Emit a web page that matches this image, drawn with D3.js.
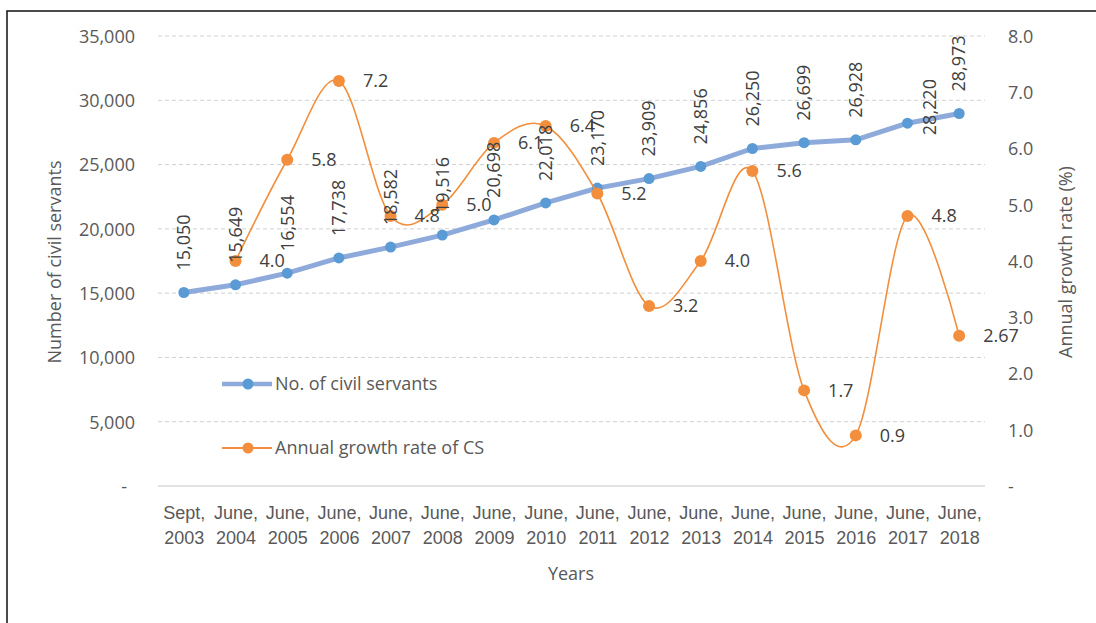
<!DOCTYPE html>
<html>
<head>
<meta charset="utf-8">
<script src="https://cdn.jsdelivr.net/npm/d3@7"></script>
<style>
  html, body { margin: 0; padding: 0; background: #fff; }
  svg { display: block; font-family: "Open Sans", "Noto Sans", sans-serif; }
</style>
</head>
<body>
<svg id="chart" width="1096" height="623"></svg>
<script>
// Reporting dates (two-line labels split at the space)
const categories = [
  "Sept, 2003", "June, 2004", "June, 2005", "June, 2006", "June, 2007", "June, 2008",
  "June, 2009", "June, 2010", "June, 2011", "June, 2012", "June, 2013", "June, 2014",
  "June, 2015", "June, 2016", "June, 2017", "June, 2018"
];

// Number of civil servants
const civilServants = [
  15050, 15649, 16554, 17738, 18582, 19516, 20698, 22018,
  23170, 23909, 24856, 26250, 26699, 26928, 28220, 28973
];

// Annual growth rate of CS (%), none for the first date
const growthRate = [
  null, 4.0, 5.8, 7.2, 4.8, 5.0, 6.1, 6.4,
  5.2, 3.2, 4.0, 5.6, 1.7, 0.9, 4.8, 2.67
];
const growthLabels = [
  "", "4.0", "5.8", "7.2", "4.8", "5.0", "6.1", "6.4",
  "5.2", "3.2", "4.0", "5.6", "1.7", "0.9", "4.8", "2.67"
];

const leftTicks = [0, 5000, 10000, 15000, 20000, 25000, 30000, 35000];
const rightTicks = [0, 1, 2, 3, 4, 5, 6, 7, 8];

const seriesNames = ["No. of civil servants", "Annual growth rate of CS"];

const svg = d3.select("#chart");
const plot = { left: 158, right: 985, top: 36, bottom: 486 };

const x = d3.scalePoint().domain(categories).range([plot.left, plot.right]).padding(0.5);
const yL = d3.scaleLinear().domain([0, 35000]).range([plot.bottom, plot.top]);
const yR = d3.scaleLinear().domain([0, 8]).range([plot.bottom, plot.top]);

const tickColor = "#595959";
const labelColor = "#404040";
const blueLine = "#8eaadb";
const blueDot = "#5b9bd5";
const orange = "#f28e3c";
const fontSize = 18;

// Outer frame
svg.append("rect")
  .attr("x", 7).attr("y", 11).attr("width", 1200).attr("height", 700)
  .attr("fill", "none").attr("stroke", "#1e1e1e").attr("stroke-width", 1.6);

// Horizontal gridlines
svg.append("g")
  .selectAll("line")
  .data(leftTicks.filter(d => d > 0))
  .join("line")
  .attr("x1", plot.left).attr("x2", plot.right)
  .attr("y1", d => yL(d)).attr("y2", d => yL(d))
  .attr("stroke", "#d0d0d0").attr("stroke-width", 1)
  .attr("stroke-dasharray", "4,3");

// Category axis line
svg.append("line")
  .attr("x1", plot.left).attr("x2", plot.right)
  .attr("y1", plot.bottom).attr("y2", plot.bottom)
  .attr("stroke", "#d9d9d9").attr("stroke-width", 1.5);

// Left axis
const leftAxis = d3.axisLeft(yL).tickValues(leftTicks).tickSize(0).tickPadding(0)
  .tickFormat(d => d === 0 ? "-" : d3.format(",")(d));
const gL = svg.append("g").attr("transform", `translate(135,0)`).call(leftAxis);
gL.select(".domain").remove();
gL.selectAll("text").attr("fill", tickColor).attr("font-size", fontSize)
  .attr("font-family", "Open Sans").attr("dy", "0.35em")
  .attr("dx", d => d === 0 ? -8 : 0);

// Right axis
const rightAxis = d3.axisRight(yR).tickValues(rightTicks).tickSize(0).tickPadding(0)
  .tickFormat(d => d === 0 ? "-" : d3.format(".1f")(d));
const gR = svg.append("g").attr("transform", `translate(1008,0)`).call(rightAxis);
gR.select(".domain").remove();
gR.selectAll("text").attr("fill", tickColor).attr("font-size", fontSize)
  .attr("font-family", "Open Sans").attr("dy", "0.35em");

// Bottom axis: two-line category labels
const xAxis = d3.axisBottom(x).tickSize(0).tickPadding(0).tickFormat("");
const gX = svg.append("g").attr("transform", `translate(0,${plot.bottom})`).call(xAxis);
gX.select(".domain").remove();
gX.selectAll(".tick").each(function(d) {
  const parts = d.split(" ");
  const t = d3.select(this).append("text")
    .attr("fill", tickColor).attr("font-size", fontSize)
    .attr("text-anchor", "middle");
  t.append("tspan").attr("x", 0).attr("y", 33).text(parts[0]);
  t.append("tspan").attr("x", 0).attr("y", 58).text(parts[1]);
});

// Axis titles
svg.append("text")
  .attr("transform", `translate(61,262) rotate(-90)`)
  .attr("text-anchor", "middle").attr("fill", tickColor).attr("font-size", fontSize)
  .text("Number  of civil servants");
svg.append("text")
  .attr("transform", `translate(1072,262) rotate(-90)`)
  .attr("text-anchor", "middle").attr("fill", tickColor).attr("font-size", fontSize)
  .text("Annual growth rate (%)");
svg.append("text")
  .attr("x", 571).attr("y", 580)
  .attr("text-anchor", "middle").attr("fill", tickColor).attr("font-size", fontSize)
  .text("Years");

// Civil servants series
const csData = categories.map((c, i) => ({ c, v: civilServants[i] }));
svg.append("path")
  .datum(csData)
  .attr("fill", "none").attr("stroke", blueLine).attr("stroke-width", 5)
  .attr("stroke-linejoin", "round")
  .attr("d", d3.line().x(d => x(d.c)).y(d => yL(d.v)));
svg.append("g").selectAll("circle")
  .data(csData).join("circle")
  .attr("cx", d => x(d.c)).attr("cy", d => yL(d.v)).attr("r", 5.5)
  .attr("fill", blueDot);

// Growth rate series (smoothed)
const grData = categories.map((c, i) => ({ c, v: growthRate[i], label: growthLabels[i] }))
  .filter(d => d.v !== null);
svg.append("path")
  .datum(grData)
  .attr("fill", "none").attr("stroke", orange).attr("stroke-width", 1.6)
  .attr("d", d3.line().curve(d3.curveCatmullRom.alpha(0)).x(d => x(d.c)).y(d => yR(d.v)));
svg.append("g").selectAll("circle")
  .data(grData).join("circle")
  .attr("cx", d => x(d.c)).attr("cy", d => yR(d.v)).attr("r", 6)
  .attr("fill", orange);

// Growth rate labels, right of each point
svg.append("g").selectAll("text")
  .data(grData).join("text")
  .attr("x", d => x(d.c) + 24).attr("y", d => yR(d.v))
  .attr("dy", "0.35em").attr("fill", labelColor).attr("font-size", fontSize)
  .text(d => d.label);

// Civil servant labels, rotated above each point; the 2017 one sits to the right
const shifted = { "June, 2017": { dx: 22, dy: 34 } };
svg.append("g").selectAll("text")
  .data(csData).join("text")
  .attr("transform", d => {
    const s = shifted[d.c] || { dx: 0, dy: 0 };
    return `translate(${x(d.c) + s.dx},${yL(d.v) - 22 + s.dy}) rotate(-90)`;
  })
  .attr("dy", "0.35em").attr("fill", labelColor).attr("font-size", fontSize)
  .text(d => d3.format(",")(d.v));

// Legend
const legend = [
  { name: seriesNames[0], y: 384, line: blueLine, dot: blueDot, w: 4.5, r: 5.5 },
  { name: seriesNames[1], y: 448, line: orange, dot: orange, w: 2, r: 5.5 }
];
const lg = svg.append("g").selectAll("g").data(legend).join("g")
  .attr("transform", d => `translate(0,${d.y})`);
lg.append("line").attr("x1", 222).attr("x2", 272).attr("y1", 0).attr("y2", 0)
  .attr("stroke", d => d.line).attr("stroke-width", d => d.w);
lg.append("circle").attr("cx", 248).attr("cy", 0).attr("r", d => d.r).attr("fill", d => d.dot);
lg.append("text").attr("x", 275).attr("y", 0).attr("dy", "0.35em")
  .attr("fill", tickColor).attr("font-size", fontSize)
  .text(d => d.name);
</script>
</body>
</html>
